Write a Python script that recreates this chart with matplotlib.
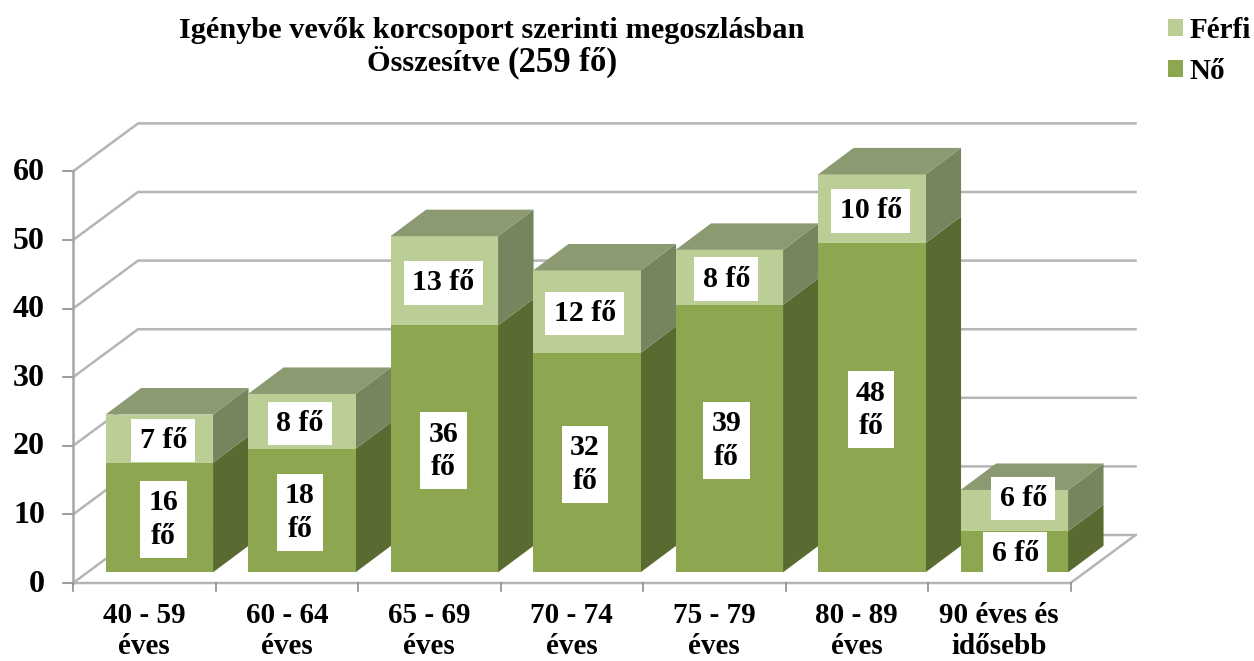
import matplotlib
matplotlib.use("Agg")
import matplotlib.pyplot as plt
from matplotlib.patches import Polygon, Patch

plt.rcParams['font.family'] = ['Liberation Serif']
plt.rcParams['font.weight'] = 'bold'

categories = ["40 - 59\néves", "60 - 64\néves", "65 - 69\néves", "70 - 74\néves",
              "75 - 79\néves", "80 - 89\néves", "90 éves és\nidősebb"]
no = [16, 18, 36, 32, 39, 48, 6]
ferfi = [7, 8, 13, 12, 8, 10, 6]
no_labels = ["16\nfő", "18\nfő", "36\nfő", "32\nfő", "39\nfő", "48\nfő", "6 fő"]
ferfi_labels = ["7 fő", "8 fő", "13 fő", "12 fő", "8 fő", "10 fő", "6 fő"]
y_ticks = [0, 10, 20, 30, 40, 50, 60]

# pixel scale of the picture
W, H = 1254, 661
x_unit = 142.5
y_unit = 6.86
x0 = 144.3
y0 = 583

fig = plt.figure(figsize=(W / 100, H / 100), dpi=100)
ax = fig.add_axes([0, 0, 1, 1])
ax.set_xlim(-x0 / x_unit, (W - x0) / x_unit)
ax.set_ylim((y0 - H) / y_unit, y0 / y_unit)
ax.axis('off')

# depth of the box, wall and bars
wall_dx, wall_dy = 65 / x_unit, 48 / y_unit
shift_dx, shift_dy = 15 / x_unit, 10.7 / y_unit
bar_w = 107.5 / x_unit
bar_dx, bar_dy = 35.5 / x_unit, 26.5 / y_unit

grid_c = "#b5b5b5"
axis_c = "#a6a6a6"
left, right = -0.5, 6.5

# how far the value labels sit from the bar centre, in pixels
nudge = [4, -2, -1, -2, -3, -1, 1]
label_drop = 2 / y_unit

for t in y_ticks:
    ax.plot([left, left + wall_dx, right + wall_dx], [t, t + wall_dy, t + wall_dy],
            color=grid_c, lw=1.8, solid_joinstyle='miter', zorder=1)
    ax.plot([left - 10 / x_unit, left], [t, t], color="#8c8c8c", lw=1.2, zorder=2)
    ax.text(left - 28 / x_unit, t - 1 / y_unit, str(t), ha='right', va='center', fontsize=23, color='black')

ax.plot([left, left], [0, 60], color=axis_c, lw=1.8, zorder=2)
ax.plot([left, right, right + wall_dx], [0, 0, wall_dy], color=grid_c, lw=1.8, zorder=2)

for i in range(8):
    ax.plot([left + i, left + i], [0, -8 / y_unit], color="#8c8c8c", lw=1.2, zorder=2)


def segment(xc, bottom, height, front, side, top=None, z=3):
    xl = xc - bar_w / 2
    xr = xc + bar_w / 2
    yb = bottom
    yt = bottom + height
    ax.add_patch(Polygon([(xr, yb), (xr + bar_dx, yb + bar_dy), (xr + bar_dx, yt + bar_dy), (xr, yt)],
                         facecolor=side, edgecolor='none', zorder=z))
    ax.add_patch(Polygon([(xl, yb), (xr, yb), (xr, yt), (xl, yt)], facecolor=front, edgecolor='none', zorder=z))
    if top:
        ax.add_patch(Polygon([(xl, yt), (xr, yt), (xr + bar_dx, yt + bar_dy), (xl + bar_dx, yt + bar_dy)],
                             facecolor=top, edgecolor='none', zorder=z))


for i in range(len(categories)):
    xc = i + shift_dx
    base = shift_dy
    z = 3 + i
    segment(xc, base, no[i], "#8ca74f", "#5a6b31", z=z)
    segment(xc, base + no[i], ferfi[i], "#bbce96", "#77855f", top="#8c9a72", z=z)

    lab_x = xc + nudge[i] / x_unit
    box = dict(facecolor='white', edgecolor='none', pad=6)
    ax.text(lab_x, base + no[i] / 2 - label_drop, no_labels[i], ha='center', va='center', fontsize=21.5,
            color='black', bbox=box, zorder=20, linespacing=1.3)
    fy = base + no[i] + ferfi[i] / 2 - label_drop
    fx = lab_x
    if i == 6:
        # this one was moved by hand in the original
        fx = xc + 9 / x_unit
        fy = fy + 14 / y_unit
    ax.text(fx, fy, ferfi_labels[i], ha='center', va='center', fontsize=21.5,
            color='black', bbox=box, zorder=21)

    ax.text(i, -48 / y_unit, categories[i], ha='center', va='center', fontsize=21,
            color='black', linespacing=1.2)

ax.text(492 / W, 1 - 30 / H, "Igénybe vevők korcsoport szerinti megoszlásban", transform=ax.transAxes,
        ha='center', va='center', fontsize=21.9, color='black')

# second title line, the number is set larger in the original
title_parts = [("Összesítve ", 21.9), ("(259", 25), (" fő)", 23.5)]
renderer = fig.canvas.get_renderer()
texts = [ax.text(0, 1 - 71 / H, s, transform=ax.transAxes, ha='left', va='baseline', fontsize=fs, color='black')
         for s, fs in title_parts]
widths = [t.get_window_extent(renderer).width for t in texts]
pos = 492 - sum(widths) / 2
for t, w in zip(texts, widths):
    t.set_x(pos / W)
    pos += w

handles = [Patch(facecolor="#bbce96", label="Férfi"), Patch(facecolor="#8ca74f", label="Nő")]
ax.legend(handles=handles, loc='upper left', bbox_to_anchor=(1162 / W, 1 - 11 / H), frameon=False,
          fontsize=21, handlelength=0.52, handleheight=0.52, handletextpad=0.24, labelspacing=0.47,
          borderpad=0.2, borderaxespad=0)

fig.savefig("out.png", dpi=100)
